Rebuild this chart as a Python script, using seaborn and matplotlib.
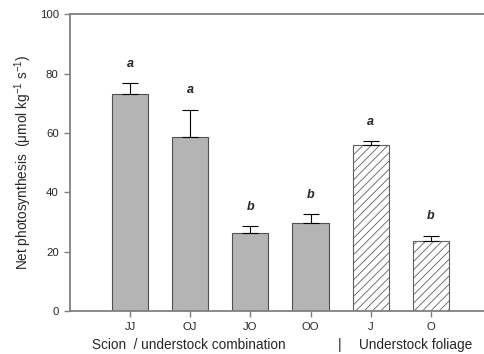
import numpy as np
import pandas as pd
import matplotlib
matplotlib.use('Agg')
import matplotlib.pyplot as plt
import seaborn as sns

# values
groups = ['JJ', 'OJ', 'JO', 'OO', 'J', 'O']
means = [73.2, 58.7, 26.4, 29.5, 55.9, 23.6]
errors = [3.6, 9.1, 2.1, 3.2, 1.4, 1.8]
letters = ['a', 'a', 'b', 'b', 'a', 'b']
kind = ['combo', 'combo', 'combo', 'combo', 'foliage', 'foliage']

df = pd.DataFrame({'group': groups, 'mean': means, 'kind': kind})

sns.set_style('ticks')
plt.rcParams['font.family'] = ['Liberation Sans', 'DejaVu Sans']
plt.rcParams['hatch.color'] = '#404040'
plt.rcParams['hatch.linewidth'] = 0.6

fig = plt.figure(figsize=(4.85, 3.54), dpi=100)
ax = fig.add_axes([0.144, 0.1215, 0.856, 0.8385])

sns.barplot(data=df, x='group', y='mean', order=groups, color='#b4b4b4',
            width=0.6, edgecolor='#505050', linewidth=0.8, ax=ax)

for patch, k in zip(ax.patches, kind):
    if k == 'foliage':
        patch.set_facecolor('white')
        patch.set_hatch('////')
        patch.set_edgecolor('#606060')

x = np.arange(len(groups))
ax.errorbar(x, means, yerr=[np.zeros(len(means)), errors], fmt='none',
            ecolor='black', elinewidth=0.8, capsize=6, capthick=0.8, zorder=3)

for xi, m, e, lab in zip(x, means, errors, letters):
    ax.text(xi, m + e + 6.5, lab, ha='center', va='center',
            fontsize=9, fontweight='bold', fontstyle='italic')

ax.set_xlim(-1, 5.9)
ax.set_ylim(0, 100)
ax.set_yticks([0, 20, 40, 60, 80, 100])
ax.set_xticks(x)
ax.set_xticklabels(groups)
ax.set_xlabel('')
ax.set_ylabel(r'Net photosynthesis  ($\mathregular{\mu}$mol kg$^{\mathregular{-1}}$ s$^{\mathregular{-1}}$)',
              fontsize=9.8, labelpad=4)
ax.tick_params(axis='both', labelsize=8.2, length=4, width=1, color='#808080', pad=4)

for side in ['left', 'bottom', 'top']:
    ax.spines[side].set_color('#808080')
    ax.spines[side].set_linewidth(1.3)
ax.spines['right'].set_visible(False)

fig.text(92 / 485, 1 - 345 / 354, 'Scion  / understock combination', fontsize=9.8,
         ha='left', va='center')
fig.text(340 / 485, 1 - 345 / 354, '|', fontsize=9.8, ha='center', va='center')
fig.text(359 / 485, 1 - 345 / 354, 'Understock foliage', fontsize=9.8,
         ha='left', va='center')

fig.savefig('out.png', dpi=100)
